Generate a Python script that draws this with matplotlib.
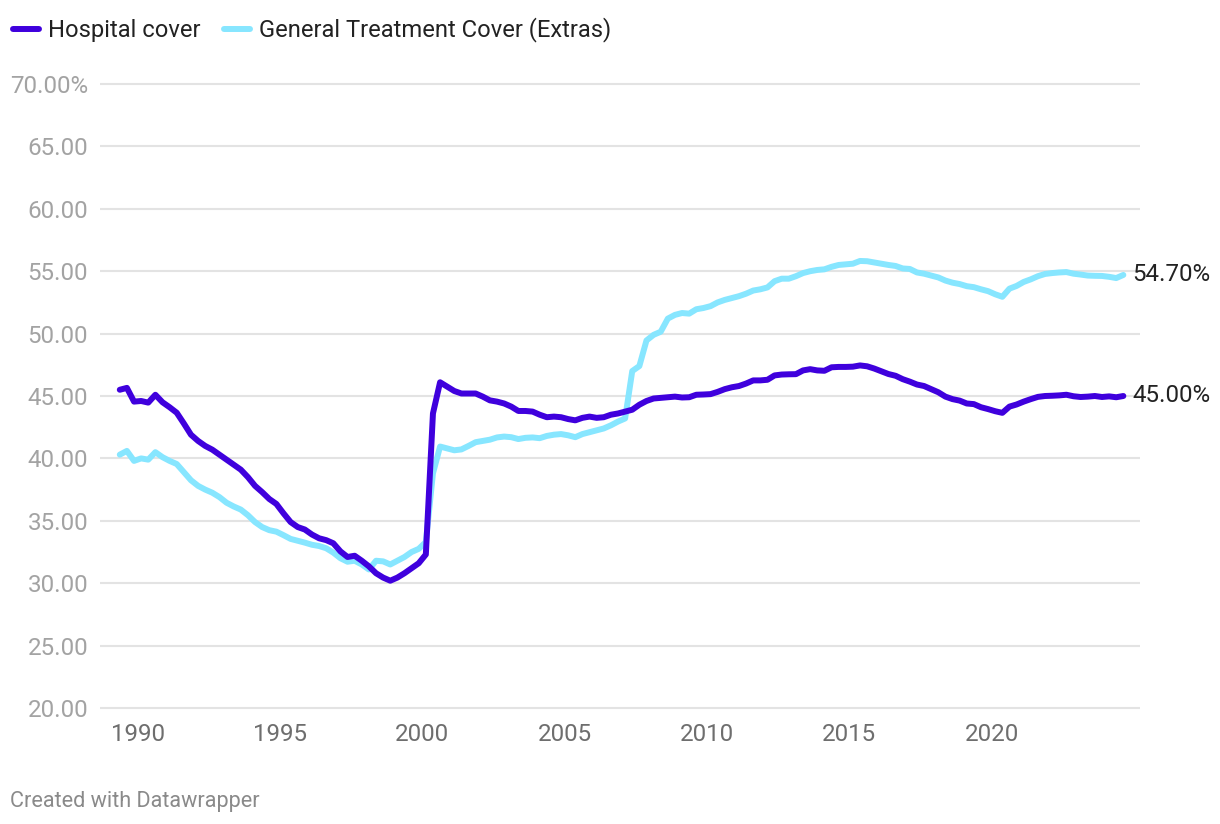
import matplotlib.pyplot as plt
import numpy as np

# quarterly readings, first point mid 1989
start_year = 1989.375
hospital = [
    45.5, 45.65, 44.55, 44.6, 44.47, 45.1, 44.5, 44.1, 43.66, 42.8,
    41.9, 41.4, 41.0, 40.7, 40.3, 39.9, 39.5, 39.1, 38.5, 37.8,
    37.3, 36.75, 36.35, 35.6, 34.9, 34.5, 34.3, 33.9, 33.6, 33.45,
    33.2, 32.55, 32.1, 32.2, 31.8, 31.35, 30.8, 30.45, 30.2, 30.45,
    30.8, 31.2, 31.6, 32.3, 43.6, 46.1, 45.75, 45.4, 45.2, 45.2,
    45.2, 44.95, 44.65, 44.55, 44.4, 44.15, 43.8, 43.8, 43.75, 43.5,
    43.3, 43.35, 43.3, 43.15, 43.05, 43.25, 43.35, 43.25, 43.3, 43.5,
    43.6, 43.75, 43.9, 44.3, 44.6, 44.8, 44.85, 44.9, 44.95, 44.88,
    44.9, 45.1, 45.12, 45.15, 45.33, 45.55, 45.7, 45.8, 46.0, 46.25,
    46.25, 46.3, 46.65, 46.72, 46.74, 46.75, 47.05, 47.15, 47.05, 47.02,
    47.3, 47.33, 47.33, 47.35, 47.45, 47.38, 47.2, 46.98, 46.76, 46.62,
    46.35, 46.15, 45.92, 45.8, 45.55, 45.3, 44.95, 44.75, 44.63, 44.4,
    44.35, 44.1, 43.95, 43.78, 43.65, 44.15, 44.32, 44.55, 44.75, 44.93,
    45.0, 45.02, 45.05, 45.1, 44.98, 44.92, 44.95, 45.0, 44.92, 44.97,
    44.9, 45.0,
]
extras = [
    40.3, 40.6, 39.8, 40.0, 39.9, 40.5, 40.1, 39.8, 39.55, 38.9,
    38.25, 37.8, 37.5, 37.25, 36.9, 36.45, 36.15, 35.9, 35.45, 34.9,
    34.5, 34.25, 34.13, 33.85, 33.55, 33.4, 33.25, 33.08, 32.98, 32.8,
    32.45, 32.0, 31.72, 31.8, 31.5, 31.1, 31.8, 31.75, 31.5, 31.8,
    32.1, 32.5, 32.75, 33.3, 38.8, 40.95, 40.8, 40.65, 40.72, 41.0,
    41.3, 41.4, 41.5, 41.68, 41.75, 41.7, 41.55, 41.65, 41.68, 41.62,
    41.8, 41.9, 41.95, 41.85, 41.7, 41.95, 42.1, 42.25, 42.4, 42.65,
    42.95, 43.2, 47.0, 47.4, 49.45, 49.9, 50.15, 51.2, 51.5, 51.65,
    51.6, 51.95, 52.05, 52.2, 52.5, 52.7, 52.85, 53.0, 53.2, 53.45,
    53.55, 53.7, 54.2, 54.4, 54.4, 54.6, 54.85, 55.0, 55.1, 55.15,
    55.35, 55.5, 55.55, 55.6, 55.82, 55.8, 55.7, 55.6, 55.5, 55.42,
    55.22, 55.18, 54.9, 54.8, 54.65, 54.5, 54.25, 54.08, 53.97, 53.8,
    53.72, 53.55, 53.4, 53.15, 52.95, 53.6, 53.82, 54.14, 54.35, 54.6,
    54.78, 54.85, 54.9, 54.93, 54.8, 54.73, 54.65, 54.63, 54.62, 54.55,
    54.45, 54.7,
]
years = start_year + 0.25 * np.arange(len(hospital))

x_ticks = [1990, 1995, 2000, 2005, 2010, 2015, 2020]
y_ticks = [20, 25, 30, 35, 40, 45, 50, 55, 60, 65, 70]
y_labels = ["20.00", "25.00", "30.00", "35.00", "40.00", "45.00",
            "50.00", "55.00", "60.00", "65.00", "70.00%"]

plt.rcParams['font.family'] = ['Roboto', 'DejaVu Sans']

hosp_col = "#3f00dd"
extra_col = "#87e6ff"
fs = 17.4

fig = plt.figure(figsize=(12.2, 8.24), dpi=100)
ax = fig.add_axes([100/1220, 1 - 710/824, 1040/1220, 628/824])

l1, = ax.plot(years, hospital, color=hosp_col, lw=4.3, solid_capstyle="round",
              solid_joinstyle="round", label="Hospital cover", zorder=3)
l2, = ax.plot(years, extras, color=extra_col, lw=4.3, solid_capstyle="round",
              solid_joinstyle="round", label="General Treatment Cover (Extras)", zorder=2)

ax.set_xlim(1988.68, 2025.21)
ax.set_ylim(19.84, 70.16)
ax.set_xticks(x_ticks)
ax.set_xticklabels([str(t) for t in x_ticks])
ax.set_yticks(y_ticks)
ax.set_yticklabels(y_labels)
ax.tick_params(axis="y", length=0, pad=8.5, labelsize=fs, labelcolor="#a3a3a3")
ax.tick_params(axis="x", length=0, pad=9.5, labelsize=fs, labelcolor="#6e6e6e")
ax.grid(axis="y", color="#e3e3e3", lw=1.5)
ax.grid(axis="x", visible=False)
ax.set_axisbelow(True)
for s in ax.spines.values():
    s.set_visible(False)

ax.annotate(f"{extras[-1]:.2f}%", (years[-1], extras[-1]), xytext=(6.5, 0),
            textcoords="offset points", va="center", ha="left", fontsize=fs, color="#222222")
ax.annotate(f"{hospital[-1]:.2f}%", (years[-1], hospital[-1]), xytext=(6.5, 0),
            textcoords="offset points", va="center", ha="left", fontsize=fs, color="#222222")

fig.legend(handles=[l1, l2], loc="center left", bbox_to_anchor=(13/1220, 1 - 30/824),
           ncol=2, frameon=False, fontsize=17.1, handlelength=1.1, handletextpad=0.36,
           columnspacing=1.0, borderpad=0, borderaxespad=0, labelcolor="#222222")

fig.text(10/1220, 1 - 801/824, "Created with Datawrapper", fontsize=15.6,
         color="#8a8a8a", va="center", ha="left")

fig.savefig("out.png", dpi=100)
